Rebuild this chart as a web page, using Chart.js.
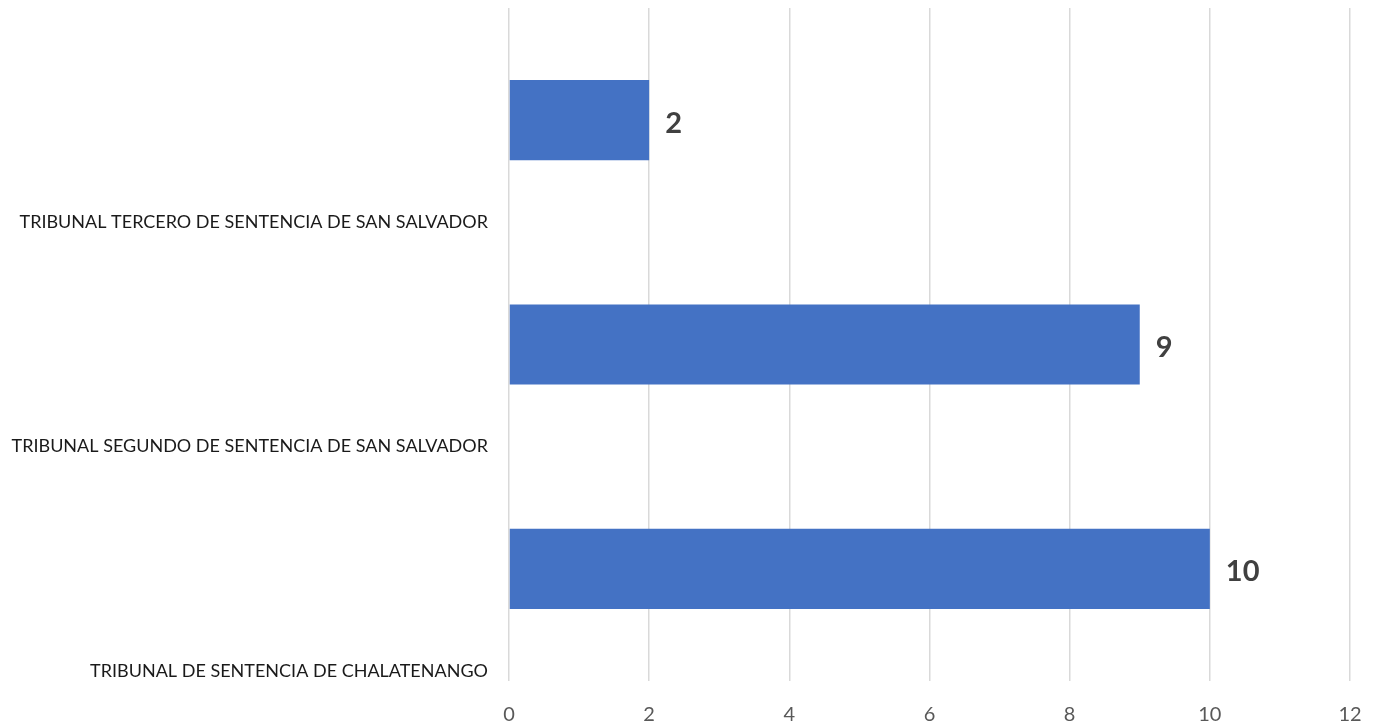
<!DOCTYPE html>
<html>
<head>
<meta charset="utf-8">
<script src="https://cdn.jsdelivr.net/npm/chart.js@4/dist/chart.umd.min.js"></script>
<style>
  html, body { margin: 0; padding: 0; background: #fff; }
  #wrap { width: 1374px; height: 723px; }
</style>
</head>
<body>
<div id="wrap"><canvas id="tribunalChart"></canvas></div>
<script>
const categories = [
  "TRIBUNAL TERCERO DE SENTENCIA DE SAN SALVADOR",
  "TRIBUNAL SEGUNDO DE SENTENCIA DE SAN SALVADOR",
  "TRIBUNAL DE SENTENCIA DE CHALATENANGO",
];
const values = [2, 9, 10];
const xTicks = [0, 2, 4, 6, 8, 10, 12];

const valueLabels = {
  id: "valueLabels",
  afterDatasetsDraw(chart) {
    const { ctx } = chart;
    const meta = chart.getDatasetMeta(0);
    ctx.save();
    ctx.font = "bold 29px Lato, 'Open Sans', sans-serif";
    ctx.fillStyle = "#404040";
    ctx.textAlign = "left";
    ctx.textBaseline = "middle";
    meta.data.forEach((bar, i) => {
      ctx.fillText(String(values[i]), bar.x + 16, bar.y + 3);
    });
    ctx.restore();
  },
};

new Chart(document.getElementById("tribunalChart"), {
  type: "bar",
  data: {
    labels: categories,
    datasets: [{
      data: values,
      backgroundColor: "#4472C4",
      borderWidth: 0,
      categoryPercentage: 1,
      barPercentage: 0.357,
    }],
  },
  options: {
    indexAxis: "y",
    responsive: true,
    maintainAspectRatio: false,
    animation: false,
    layout: { padding: { top: 8, right: 24, left: 0, bottom: 0 } },
    plugins: { legend: { display: false }, tooltip: { enabled: false } },
    scales: {
      x: {
        min: 0,
        max: 12,
        afterBuildTicks: (axis) => { axis.ticks = xTicks.map((v) => ({ value: v })); },
        afterFit: (axis) => {
          axis.height = 42;
          axis.paddingLeft = 0;
          axis.paddingRight = 0;
        },
        border: { display: false },
        grid: { color: "#d9d9d9", lineWidth: 1.5, drawTicks: false },
        ticks: { color: "#595959", font: { family: "Lato, 'Open Sans', sans-serif", size: 20 }, padding: 22 },
      },
      y: {
        afterFit: (axis) => {
          axis.width = 509;
          axis.paddingTop = 0;
          axis.paddingBottom = 0;
        },
        border: { display: false },
        grid: { display: false },
        ticks: {
          color: "#1a1a1a",
          font: { family: "Lato, 'Open Sans', sans-serif", size: 18 },
          labelOffset: 102,
          padding: 13,
        },
      },
    },
  },
  plugins: [valueLabels],
});
</script>
</body>
</html>
